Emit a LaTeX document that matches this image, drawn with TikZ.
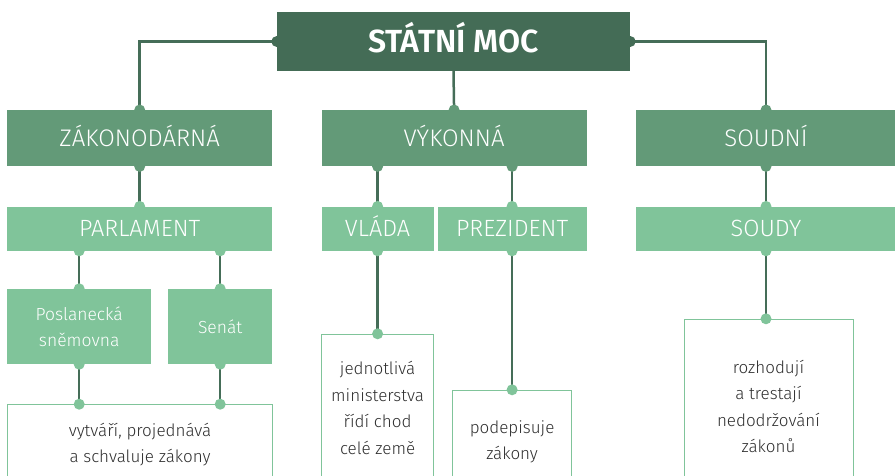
\documentclass[tikz,border=0pt]{standalone}
\usepackage{fontspec}
\setmainfont{Fira Sans}[UprightFont=* Light, BoldFont=* SemiBold]
\usetikzlibrary{positioning}

\definecolor{moccol}{HTML}{446C56}
\definecolor{midcol}{HTML}{639A78}
\definecolor{lightcol}{HTML}{80C49A}
\definecolor{linecol}{HTML}{456D58}
\definecolor{txtcol}{HTML}{2F2F2F}

\begin{document}
\begin{tikzpicture}[x=1pt,y=-1pt,
    box/.style={inner sep=0pt,align=center,text=white},
    power/.style={box,fill=midcol,minimum height=56pt,text height=16.5pt,text depth=0pt,font=\fontsize{24}{24}\selectfont},
    organ/.style={box,fill=lightcol,minimum height=44pt,text height=16.2pt,text depth=0pt,font=\fontsize{23.5}{23.5}\selectfont},
    chamber/.style={box,fill=lightcol,minimum height=75pt,font=\fontsize{17.5}{26}\selectfont},
    duty/.style={box,draw=lightcol,line width=1pt,fill=white,text=txtcol,font=\fontsize{17}{26.5}\selectfont},
    link/.style={draw=linecol,line width=2.5pt}]
  \clip (0,0) rectangle (895,475);

  \node[box,fill=moccol,minimum width=353pt,minimum height=59pt,text height=22pt,text depth=0pt,font=\fontsize{32}{32}\selectfont\bfseries] (moc) at (453.5,41.5) {STÁTNÍ MOC};

  \node[power,minimum width=265pt,anchor=north west] (zak)  at (7,110)       {ZÁKONODÁRNÁ};
  \node[power,minimum width=265pt,right=49pt of zak]  (vyk)                   {VÝKONNÁ};
  \node[power,minimum width=260pt,right=49pt of vyk]  (soud)                  {SOUDNÍ};

  \node[organ,minimum width=265pt,below=40pt of zak]                           (parl)  {PARLAMENT};
  \node[organ,minimum width=112pt,below=40pt of vyk.south west,anchor=north west] (vlada) {VLÁDA};
  \node[organ,minimum width=149pt,below=40pt of vyk.south east,anchor=north east] (prez)  {PREZIDENT};
  \node[organ,minimum width=260pt,below=40pt of soud]                          (soudy) {SOUDY};

  \node[chamber,minimum width=144pt,below=38pt of parl.south west,anchor=north west] (posl)  {Poslanecká\\sněmovna};
  \node[chamber,minimum width=104pt,below=38pt of parl.south east,anchor=north east] (senat) {Senát};

  \node[duty,minimum width=265pt,minimum height=80pt,below=40pt of posl.south west,anchor=north west] (zaktxt) {vytváří, projednává\\a schvaluje zákony};
  \node[duty,minimum width=112pt,minimum height=147pt,below=83pt of vlada]  (vladtxt) {jednotlivá\\ministerstva\\řídí chod\\celé země};
  \node[duty,minimum width=119pt,minimum height=103pt,below=139pt of prez]  (preztxt) {podepisuje\\zákony};
  \node[duty,minimum width=169pt,minimum height=174pt,below=68pt of soudy,xshift=2.5pt] (soudtxt) {rozhodují\\a trestají\\nedodržování\\zákonů};

  % connectors
  \draw[link] (moc.west) -| (zak.north);
  \draw[link] (moc.east) -| (soud.north);
  \draw[link] (moc.south) -- (vyk.north);
  \draw[link] (zak.south) -- (parl.north);
  \draw[link] (vyk.south -| vlada) -- (vlada.north);
  \draw[link] (vyk.south -| prez) -- (prez.north);
  \draw[link] (soud.south) -- (soudy.north);
  \draw[link] (parl.south -| posl) -- (posl.north);
  \draw[link] (parl.south -| senat) -- (senat.north);
  \draw[link] (posl.south) -- (posl.south |- zaktxt.north);
  \draw[link] (senat.south) -- (senat.south |- zaktxt.north);
  \draw[link] (vlada.south) -- (vladtxt.north);
  \draw[link] (prez.south) -- (preztxt.north);
  \draw[link] (soudy.south) -- (soudy.south |- soudtxt.north);

  % dots
  \foreach \p/\c in {moc.west/moccol,moc.east/moccol,zak.north/midcol,soud.north/midcol,vyk.north/midcol,
      zak.south/midcol,vyk.south -| vlada/midcol,vyk.south -| prez/midcol,soud.south/midcol,
      parl.north/lightcol,vlada.north/lightcol,prez.north/lightcol,soudy.north/lightcol,
      parl.south -| posl/lightcol,parl.south -| senat/lightcol,posl.north/lightcol,senat.north/lightcol,
      posl.south/lightcol,senat.south/lightcol,posl.south |- zaktxt.north/lightcol,senat.south |- zaktxt.north/lightcol,
      vlada.south/lightcol,vladtxt.north/lightcol,prez.south/lightcol,preztxt.north/lightcol,
      soudy.south/lightcol,soudy.south |- soudtxt.north/lightcol}
    \fill[\c] (\p) circle (5.5pt);
\end{tikzpicture}
\end{document}
